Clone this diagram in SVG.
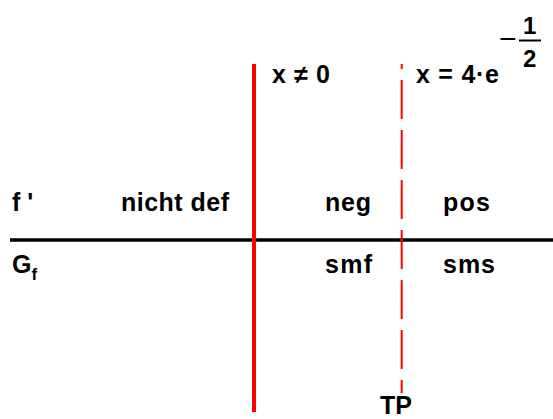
<svg xmlns="http://www.w3.org/2000/svg" width="553" height="419" viewBox="0 0 553 419">
<style>
  text { font-family: "Liberation Sans", Arial, sans-serif; font-weight: bold; font-size: 25px; fill: #000; }
  .sm { font-size: 24px; }
  .minus { font-size: 30px; font-weight: normal; }
  .sub { font-size: 17px; }
  .axis { stroke: #000; stroke-width: 3.5; fill: none; }
  .solid { stroke: #ff0000; stroke-width: 4; fill: none; }
  .dash { stroke: #ff0000; stroke-width: 2; fill: none; stroke-dasharray: 39 11; stroke-dashoffset: 34; }
</style>
<rect width="553" height="419" fill="#fff"/>
<g id="connectors">
  <line class="axis" x1="10" y1="240" x2="553" y2="240"/>
  <line class="solid" x1="254" y1="64" x2="254" y2="412"/>
  <line class="dash" x1="401.7" y1="64" x2="401.7" y2="393"/>
</g>
<g id="label-x-ne-0"><text x="272" y="83" textLength="58">x ≠ 0</text></g>
<g id="label-x-eq">
  <text x="416" y="83" textLength="83">x = 4·e</text>
  <text class="minus" x="499" y="49">−</text>
  <text class="sm" x="523" y="34">1</text>
  <line x1="519" y1="40.5" x2="541" y2="40.5" stroke="#000" stroke-width="2"/>
  <text class="sm" x="523" y="67">2</text>
</g>
<g id="row-fprime">
  <text x="12" y="211">f '</text>
  <text x="121" y="211" textLength="108">nicht def</text>
  <text x="325" y="211" textLength="46">neg</text>
  <text x="443" y="211" textLength="47">pos</text>
</g>
<g id="row-gf">
  <text x="12" y="273">G<tspan class="sub" dy="7">f</tspan></text>
  <text x="325" y="273" textLength="47">smf</text>
  <text x="443" y="273" textLength="52">sms</text>
</g>
<g id="label-tp"><text x="380" y="414">TP</text></g>
</svg>
